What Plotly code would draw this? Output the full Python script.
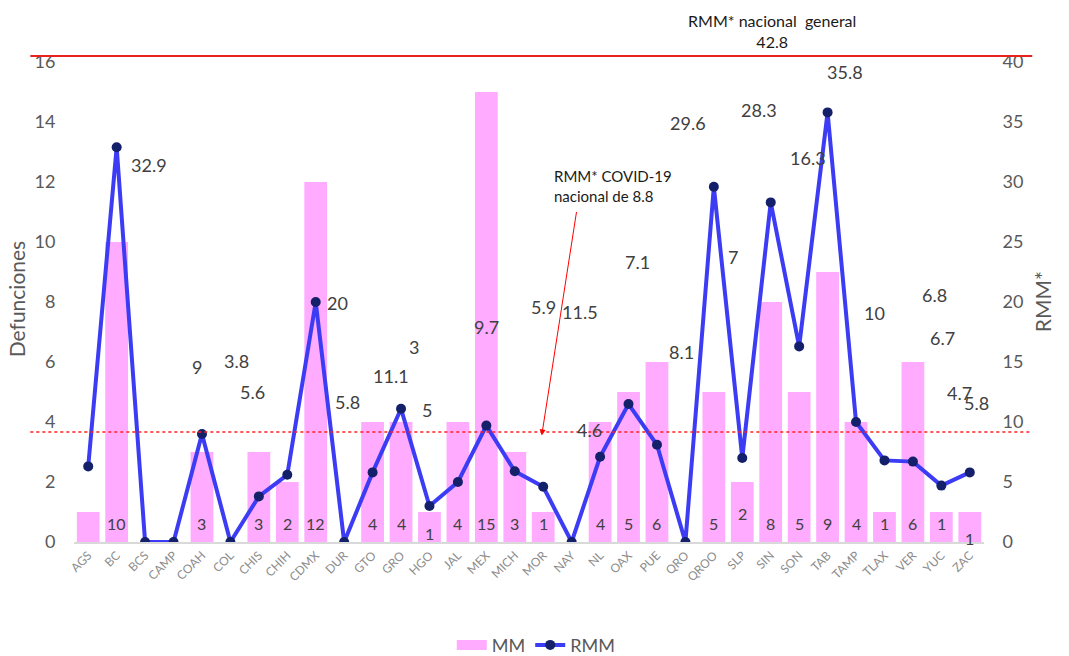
import plotly.graph_objects as go

# ---------------- data ----------------
states = ["AGS", "BC", "BCS", "CAMP", "COAH", "COL", "CHIS", "CHIH", "CDMX", "DUR",
          "GTO", "GRO", "HGO", "JAL", "MEX", "MICH", "MOR", "NAY", "NL", "OAX",
          "PUE", "QRO", "QROO", "SLP", "SIN", "SON", "TAB", "TAMP", "TLAX", "VER",
          "YUC", "ZAC"]
mm = [1, 10, 0, 0, 3, 0, 3, 2, 12, 0,
      4, 4, 1, 4, 15, 3, 1, 0, 4, 5,
      6, 0, 5, 2, 8, 5, 9, 4, 1, 6,
      1, 1]
rmm = [6.3, 32.9, 0, 0, 9, 0, 3.8, 5.6, 20, 0,
       5.8, 11.1, 3, 5, 9.7, 5.9, 4.6, 0, 7.1, 11.5,
       8.1, 0, 29.6, 7, 28.3, 16.3, 35.8, 10, 6.8, 6.7,
       4.7, 5.8]
rmm_general = 42.8
rmm_covid = 8.8

# ---------------- label placement (positions only) ----------------
# RMM data labels as placed in the reference (x in category index, y on RMM axis)
rmm_label_pos = {
    0: (-0.83, 7.9), 1: (2.13, 31.4), 4: (3.82, 14.6), 6: (5.22, 15.1),
    7: (5.78, 12.5), 8: (8.77, 19.9), 10: (9.12, 11.7), 11: (10.64, 13.8),
    12: (11.45, 16.25), 13: (11.9, 11.0), 14: (14.0, 17.9), 15: (16.0, 19.6),
    16: (17.63, 9.35), 18: (19.32, 23.3), 19: (17.28, 19.2), 20: (20.86, 15.8),
    22: (21.08, 34.9), 23: (22.66, 23.75), 24: (23.6, 36.0), 25: (25.3, 32.0),
    26: (26.6, 39.2), 27: (27.65, 19.1), 28: (29.76, 20.6), 29: (30.04, 17.0),
    30: (30.64, 12.4), 31: (31.24, 11.6),
}
mm_label_skip = {0}
mm_label_shift = {12: (0, 9), 23: (0, 29), 31: (0, 4)}  # (xshift, yshift) overrides
mm_label_default_shift = 19

FONT = "Lato"
TXT = "#404040"
AX = "#595959"
PINK = "#FFABFF"

fig = go.Figure()
fig.add_trace(go.Bar(
    x=states, y=mm, name="MM", marker=dict(color=PINK, line=dict(width=0)),
    yaxis="y", showlegend=False, legendgroup="mm",
))
# legend swatch for the bars (wide flat rectangle as in the reference)
fig.add_trace(go.Scatter(
    x=[None], y=[None], name="MM", mode="lines", legendgroup="mm",
    line=dict(color=PINK, width=12),
))
fig.add_trace(go.Scatter(
    x=states, y=rmm, name="RMM", mode="lines+markers", yaxis="y2",
    line=dict(color="#3C3CF5", width=4),
    marker=dict(color="#15206B", size=10),
))

annotations = []
for i, v in enumerate(rmm):
    if i in rmm_label_pos:
        px, py = rmm_label_pos[i]
        annotations.append(dict(x=px, y=py, xref="x", yref="y2", text=f"{v:g}",
                                showarrow=False, font=dict(family=FONT, size=18, color=TXT)))
for i, v in enumerate(mm):
    if v == 0 or i in mm_label_skip:
        continue
    xs, ys = mm_label_shift.get(i, (0, mm_label_default_shift))
    annotations.append(dict(x=i, y=0, xref="x", yref="y", text=str(v), showarrow=False,
                            xshift=xs, yshift=ys,
                            font=dict(family=FONT, size=16, color=TXT)))

# reference line texts
annotations.append(dict(x=0.767, y=1.065, xref="paper", yref="paper",
                        xanchor="center", yanchor="middle",
                        text=f"RMM* nacional  general<br>{rmm_general}",
                        showarrow=False, align="center",
                        font=dict(family=FONT, size=16, color="#1a1a1a")))
annotations.append(dict(x=0.525, y=0.786, xref="paper", yref="paper",
                        xanchor="left", yanchor="top", align="left",
                        text=f"RMM* COVID-19<br>nacional de {rmm_covid}",
                        showarrow=False,
                        font=dict(family=FONT, size=15, color="#1a1a1a")))
annotations.append(dict(x=0.514, y=0.222, xref="paper", yref="paper",
                        ax=35, ay=-225, axref="pixel", ayref="pixel",
                        text="", showarrow=True, arrowhead=2, arrowsize=1.2,
                        arrowwidth=1, arrowcolor="#FF0000"))
# axis titles
annotations.append(dict(x=-0.063, y=0.505, xref="paper", yref="paper", text="Defunciones",
                        xanchor="center", yanchor="middle",
                        textangle=-90, showarrow=False,
                        font=dict(family=FONT, size=21, color=AX)))
annotations.append(dict(x=1.064, y=0.50, xref="paper", yref="paper", text="RMM*",
                        xanchor="center", yanchor="middle",
                        textangle=-90, showarrow=False,
                        font=dict(family=FONT, size=21, color=AX)))

shapes = [
    dict(type="line", xref="paper", yref="paper", x0=-0.048, x1=1.053, y0=1.0125, y1=1.0125,
         line=dict(color="#E8231F", width=2)),
    dict(type="line", xref="paper", yref="paper", x0=-0.048, x1=1.053, y0=0.229, y1=0.229,
         line=dict(color="#FF2020", width=1.5, dash="dot")),
]

fig.update_layout(
    width=1069, height=656, autosize=False,
    margin=dict(l=74, r=85, t=62, b=114, autoexpand=False),
    plot_bgcolor="white", paper_bgcolor="white",
    bargap=0.2,
    font=dict(family=FONT, color=AX),
    xaxis=dict(range=[-0.5, 31.5], showline=True, linecolor="#D9D9D9", linewidth=1.5,
               tickangle=-45, tickfont=dict(family=FONT, size=12, color="#8C8C8C"),
               showgrid=False, zeroline=False, fixedrange=True),
    yaxis=dict(range=[0, 16], dtick=2, showgrid=False, zeroline=False, showline=False,
               ticks="outside", ticklen=14, tickcolor="rgba(0,0,0,0)",
               tickfont=dict(family=FONT, size=18, color=AX)),
    yaxis2=dict(range=[0, 40], dtick=5, overlaying="y", side="right", showgrid=False,
                zeroline=False, showline=False, ticks="outside", ticklen=14,
                tickcolor="rgba(0,0,0,0)",
                tickfont=dict(family=FONT, size=18, color=AX)),
    legend=dict(orientation="h", x=0.508, xanchor="center", y=-0.215, yanchor="middle",
                font=dict(family=FONT, size=18, color=AX), bgcolor="rgba(0,0,0,0)",
                traceorder="normal"),
    annotations=annotations,
    shapes=shapes,
)

fig.write_html("out.html", config={"displayModeBar": False},
               post_script="document.body.style.margin='0px';document.body.style.padding='0px';")
